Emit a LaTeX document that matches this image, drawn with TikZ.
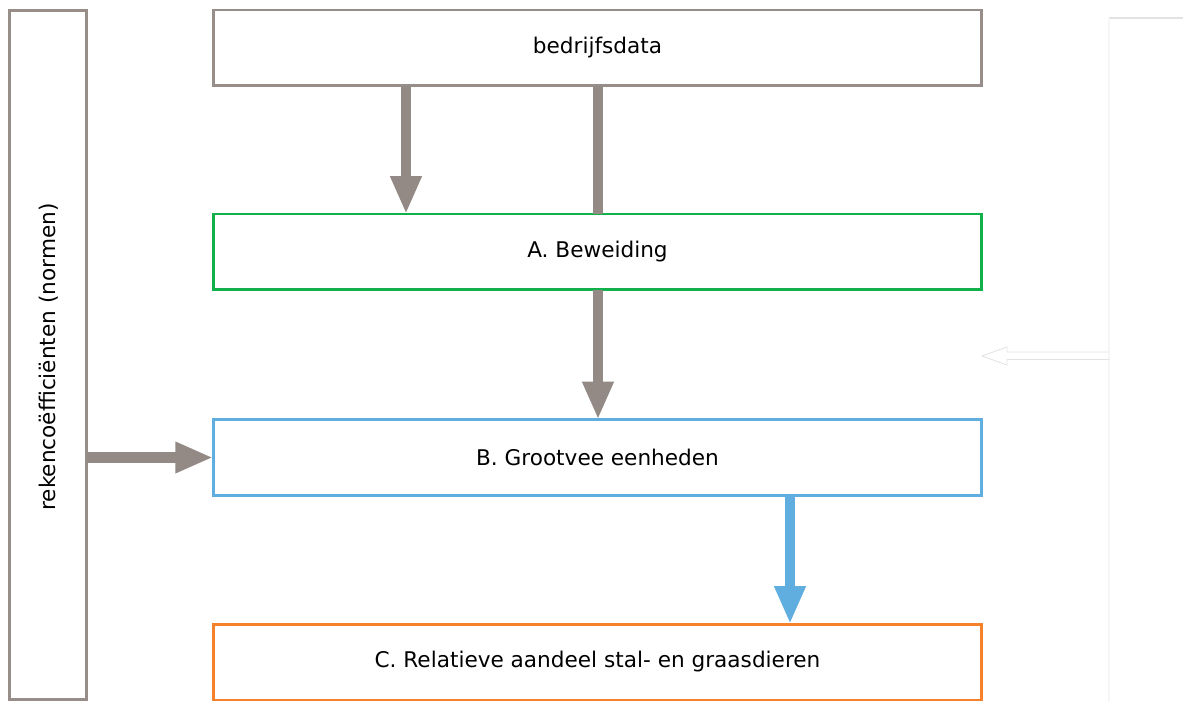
\documentclass[tikz,border=0pt]{standalone}
\usepackage{fontspec}
\setmainfont{DejaVu Sans}
\usetikzlibrary{arrows.meta}
\definecolor{framegray}{RGB}{152,142,137}
\definecolor{arrowgray}{RGB}{148,138,133}
\definecolor{boxgreen}{RGB}{18,176,75}
\definecolor{boxblue}{RGB}{96,174,224}
\definecolor{boxorange}{RGB}{245,130,42}
\definecolor{faint}{RGB}{226,226,226}
\definecolor{fainter}{RGB}{246,246,246}
\tikzset{
  txt/.style={font=\fontsize{12.3}{14}\selectfont},
  box/.style={draw, line width=1.7pt, inner sep=0pt, outer sep=0pt,
    minimum width=15.38cm, minimum height=1.52cm, txt},
  flow/.style={line width=5.8pt, draw=arrowgray,
    -{Triangle[width=16.5pt,length=21.5pt]}},
  bar/.style={line width=5.8pt, draw=arrowgray},
}
\begin{document}
\begin{tikzpicture}[x=0.02cm,y=-0.02cm]
\useasboundingbox (0,0) rectangle (1183,702);

% side column with the coefficients
\node[box, draw=framegray, minimum width=1.56cm, minimum height=13.8cm] (norm) at (48,355) {};
\node[rotate=90, txt] (normtext) at (49,357) {rekencoëfficiënten (normen)};

% main chain of steps
\node[box, draw=framegray] (data) at (597.5,48) {bedrijfsdata};
\node[box, draw=boxgreen] (A) at (597.5,252) {A. Beweiding};
\node[box, draw=boxblue] (B) at (597.5,457.5) {B. Grootvee eenheden};
\node[box, draw=boxorange] (C) at (597.5,662) {C. Relatieve aandeel stal- en graasdieren};

% vertical positions of the connectors
\coordinate (xa) at (406,0);
\coordinate (xb) at (598,0);
\coordinate (xc) at (790,0);

\draw[flow] (xa |- data.south) -- (xa |- A.north);
\draw[bar] (xb |- data.south) -- (xb |- A.north);
\draw[flow] (xb |- A.south) -- (xb |- B.north);
\draw[flow] (norm.east |- B.west) -- (B.west);
\draw[flow, draw=boxblue] (xc |- B.south) -- (xc |- C.north);

% faint frame and hollow arrow at the right edge
\draw[faint, line width=0.6pt] (1109,18) -- (1183,18);
\draw[fainter, line width=0.6pt] (1109,18) -- (1109,702);
\draw[faint, line width=0.5pt] (1109,352) -- (1007,352) -- (1007,347) -- (982,356)
  -- (1007,365) -- (1007,359.5) -- (1109,359.5);
\end{tikzpicture}
\end{document}
